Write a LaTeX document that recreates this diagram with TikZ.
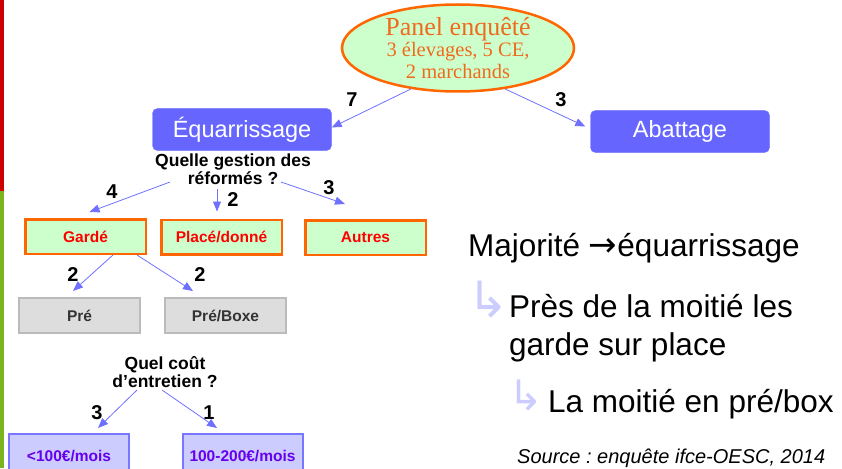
\documentclass[tikz,border=0pt]{standalone}
\usepackage{fontspec}
\setmainfont{Liberation Sans}
\newfontfamily\timesf{Liberation Serif}
\newfontfamily\dejavu{DejaVu Sans}
\usetikzlibrary{arrows.meta,shapes.geometric,calc}
\definecolor{boxblue}{HTML}{6666FF}
\definecolor{arrblue}{HTML}{7070FF}
\definecolor{lgreen}{HTML}{CCFFCC}
\definecolor{orng}{HTML}{FF6600}
\definecolor{orngtext}{HTML}{F06A1E}
\definecolor{boxred}{HTML}{FF0000}
\definecolor{greyfill}{HTML}{DDDDDD}
\definecolor{greyline}{HTML}{BBBBBB}
\definecolor{greytext}{HTML}{333333}
\definecolor{lilac}{HTML}{CCCCFF}
\definecolor{lilacline}{HTML}{7777FF}
\definecolor{purpletext}{HTML}{6600EE}
\definecolor{barred}{HTML}{CC0000}
\definecolor{bargreen}{HTML}{7AB51D}
\definecolor{bullet}{HTML}{CCCCFF}
\newcommand\fsz[2]{\fontsize{#1}{#2}\selectfont}
\tikzset{
  bluebox/.style={rectangle, rounded corners=5pt, fill=boxblue, draw=boxblue,
    minimum width=179pt, minimum height=42pt, inner sep=0pt, text=white,
    font=\fsz{23.5}{26}},
  greenbox/.style={rectangle, draw=orng, line width=2.5pt, fill=lgreen,
    minimum width=120.5pt, minimum height=34.5pt, inner sep=0pt, text=boxred,
    font=\bfseries\fsz{15.5}{17}},
  greybox/.style={rectangle, draw=greyline, line width=2pt, fill=greyfill,
    minimum width=121pt, minimum height=35pt, inner sep=0pt, text=greytext,
    font=\bfseries\fsz{15.5}{17}},
  lilacbox/.style={rectangle, draw=lilacline, line width=2pt, fill=lilac,
    minimum width=120pt, minimum height=44pt, inner sep=0pt, text=purpletext,
    font=\bfseries\fsz{15.5}{17}},
  qtext/.style={align=center, inner sep=0pt, font=\bfseries\fsz{17.5}{15}},
  numlab/.style={inner sep=0pt, font=\bfseries\fsz{20}{20}},
  arr/.style={draw=arrblue, line width=0.8pt, -{Triangle[length=10pt,width=8pt]}},
  bigtext/.style={anchor=base west, inner sep=0pt, font=\fsz{31.5}{38}},
  bul/.style={anchor=base west, inner sep=0pt, text=bullet},
}
\begin{document}
\frenchspacing
\begin{tikzpicture}[x=1pt,y=-1pt]
\useasboundingbox (0,0) rectangle (842,468);
\clip (0,0) rectangle (842,468);
\fill[barred] (0,0) rectangle (4,191);
\fill[bargreen] (0,191) rectangle (4,468);

% top ellipse
\node[ellipse, draw=orng, line width=2.5pt, fill=lgreen, minimum width=232pt,
  minimum height=87pt, inner sep=0pt, text=orngtext, align=center,
  font=\timesf\fsz{20.5}{21.5}] (pe) at (458,48)
  {{\fsz{26}{24}Panel enquêté}\\3 élevages, 5 CE,\\2 marchands};

% level 1
\node[bluebox] (eq) at (242,129.5) {Équarrissage};
\node[bluebox] (ab) at (680,131.5) {Abattage};
\draw[arr] (pe.221) -- ($(eq.east)+(0,-2)$);
\draw[arr] (pe.319) -- ($(ab.west)+(-5,-5)$);
\node[numlab] (n7) at (352,100) {7};
\node[numlab] (n3a) at (561,100) {3};

% question 1
\node[qtext] (q1) at (233,169) {Quelle gestion des\\réformés ?};
\node[greenbox] (g) at (85.5,236.5) {Gardé};
\node[greenbox] (p) at (221.5,237) {Placé/donné};
\node[greenbox] (a) at (365.5,237.5) {Autres};
\draw[arr] ($(q1.center)+(-63,13)$) -- ($(g.north)+(4,-6)$);
\draw[arr] ($(q1.center)+(-16,20)$) -- ($(p.north)+(-4.5,-7)$);
\draw[arr] ($(q1.center)+(48,13)$) -- ($(a.north)+(-20.5,-15)$);
\node[numlab] (n4) at (112,192) {4};
\node[numlab] (n2a) at (233,200) {2};
\node[numlab] (n3b) at (329,188) {3};

% level 3
\node[greybox] (pr) at (79.5,315.5) {Pré};
\node[greybox] (pb) at (225.5,315.5) {Pré/Boxe};
\draw[arr] ($(g.south)+(27.5,0)$) -- ($(pr.north)+(-6.5,-6)$);
\draw[arr] ($(g.south)+(51.5,0)$) -- ($(pb.north)+(-32.5,-6)$);
\node[numlab] (n2b) at (73,275) {2};
\node[numlab] (n2c) at (200,275) {2};

% question 2
\node[qtext] (q2) at (165,372) {Quel coût\\d’entretien ?};
\node[lilacbox] (l1) at (69,456) {<100€/mois};
\node[lilacbox] (l2) at (242.5,456) {100-200€/mois};
\draw[arr] ($(q2.center)+(-28,18)$) -- ($(l1.north)+(29,-5)$);
\draw[arr] ($(q2.center)+(-3,18)$) -- ($(l2.north)+(-25.5,-5)$);
\node[numlab] (n3c) at (97,413) {3};
\node[numlab] (n1) at (209,413) {1};

% right text
\node[bigtext] (m1) at (468,256) {Majorité {\dejavu\fsz{34}{38}→}équarrissage};
\node[bul, font=\dejavu\fsz{50}{50}] (b1) at (467,317) {↳};
\node[bigtext] (m2) at (509,317) {Près de la moitié les};
\node[bigtext] (m3) at (509,355) {garde sur place};
\node[bul, font=\dejavu\fsz{42}{42}] (b2) at (508,410) {↳};
\node[bigtext] (m4) at (548,412) {La moitié en pré/box};
\node[anchor=base west, inner sep=0pt, font=\itshape\fsz{20}{20}] (src) at (517,463)
  {Source : enquête ifce-OESC, 2014};
\end{tikzpicture}
\end{document}
